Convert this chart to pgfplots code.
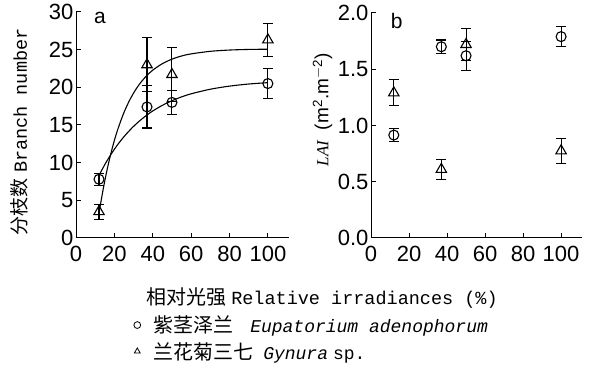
\documentclass[border=0pt]{standalone}
\usepackage{fontspec}
\setmainfont{Liberation Sans}
\setmonofont{Liberation Mono}
\newfontfamily\cjk{Noto Sans CJK SC}
\newfontfamily\serifit{Liberation Serif}
\newcommand{\cn}[2][20]{{\fontsize{#1}{24}\selectfont\cjk #2}}
\usepackage{pgfplots}
\pgfplotsset{compat=1.18}
\pgfplotsset{
  panel/.style={
    scale only axis,
    anchor=south west,
    axis x line*=bottom,
    axis y line*=left,
    tick align=inside,
    major tick length=5pt,
    axis line style={line width=1pt},
    every tick/.style={line width=1pt, black},
    xmin=0, xmax=111,
    xtick={0,20,40,60,80,100},
    tick label style={font=\fontsize{22}{26}\selectfont},
    /pgf/number format/assume math mode=true,
    xticklabel style={yshift=-5pt},
    yticklabel style={xshift=1pt},
    clip=false,
  },
  ebar/.style={
    only marks,
    line width=1.1pt,
    error bars/y dir=both,
    error bars/y explicit,
    error bars/error bar style={line width=1.1pt},
    error bars/error mark options={rotate=90, mark size=5pt, line width=1.1pt},
  },
}
\begin{document}
\begin{tikzpicture}
\useasboundingbox (0,0) rectangle (594pt,379pt);
% ---------- panel a ----------
\begin{axis}[panel,
  at={(76pt,141pt)},
  width=213pt, height=226pt,
  ymin=0, ymax=30, ytick={0,5,10,15,20,25,30},
  ylabel={\cn[19]{分枝数} \texttt{Branch number}},
  ylabel style={at={(axis description cs:-0.265,0.47)}, anchor=center, font=\fontsize{18.5}{22}\selectfont},
  legend style={at={(axis description cs:0.268,-0.335)}, anchor=north west, draw=none, fill=none,
    font=\fontsize{18}{22}\selectfont, row sep=4pt, inner sep=0pt,
    cells={anchor=west}},
  legend image code/.code={\path[draw=none] (0pt,0pt) -- (18pt,0pt);
    \draw[mark size=3.4pt, line width=0.8pt] plot coordinates {(4pt,0pt)};},
]
\addplot[black, line width=1.1pt, smooth, forget plot] coordinates {
(12,3.31)(14,6.25)(16,8.82)(18,11.04)(20,12.95)(22,14.59)(25,16.66)(28,18.32)
(31,19.65)(34,20.73)(37,21.59)(40,22.28)(45,23.14)(50,23.74)(55,24.16)(60,24.44)
(70,24.78)(80,24.95)(90,25.03)(100,25.06)};
\addplot[black, line width=1.1pt, smooth, forget plot] coordinates {
(12,8.30)(14,9.28)(16,10.18)(18,11.01)(20,11.78)(22,12.49)(25,13.45)(28,14.30)
(31,15.06)(34,15.73)(37,16.33)(40,16.86)(45,17.61)(50,18.22)(55,18.73)(60,19.14)
(70,19.75)(80,20.16)(90,20.44)(100,20.62)};
\addplot[black, mark=o, mark size=5pt, ebar] coordinates {
(12,7.8) +- (0,0.8)
(37,17.4) +- (0,2.8)
(50,18.0) +- (0,1.6)
(100,20.5) +- (0,1.95)};
\addplot[black, mark=triangle, mark size=6pt, ebar] coordinates {
(12,3.5) +- (0,1.0)
(37,23.0) +- (0,3.6)
(50,21.7) +- (0,3.6)
(100,26.3) +- (0,2.2)};
\legend{\cn{紫茎泽兰}\hspace{17pt}\textit{\texttt{Eupatorium adenophorum}},
        \cn{兰花菊三七}\hspace{10pt}\textit{\texttt{Gynura}} \texttt{sp.}}
\node[font=\fontsize{21}{24}\selectfont, anchor=center] at (axis cs:12.5,29.2) {a};
\end{axis}
% ---------- panel b ----------
\begin{axis}[panel,
  at={(371pt,141pt)},
  width=211pt, height=225pt,
  ymin=0, ymax=2, ytick={0,0.5,1,1.5,2},
  yticklabel style={/pgf/number format/.cd, fixed, fixed zerofill, precision=1},
  ylabel={{\fontsize{17}{20}\selectfont\serifit\itshape LAI}\ \ (m$^{\mathrm{2}}$.m$^{\mathrm{-2}}$)},
  ylabel style={at={(axis description cs:-0.23,0.57)}, anchor=center, font=\fontsize{19}{22}\selectfont},
]
\addplot[black, mark=o, mark size=5pt, ebar] coordinates {
(12,0.915) +- (0,0.06)
(37,1.70) +- (0,0.06)
(50,1.62) +- (0,0.13)
(100,1.79) +- (0,0.09)};
\addplot[black, mark=triangle, mark size=6pt, ebar] coordinates {
(12,1.29) +- (0,0.115)
(37,0.61) +- (0,0.09)
(50,1.72) +- (0,0.14)
(100,0.775) +- (0,0.11)};
\node[font=\fontsize{21}{24}\selectfont, anchor=center] at (axis cs:13.5,1.93) {b};
\end{axis}
\node[font=\fontsize{18.5}{22}\selectfont, anchor=center] at (322pt,81pt)
  {\cn{相对光强}\hspace{5pt}\texttt{Relative irradiances (\%)}};
\end{tikzpicture}
\end{document}
